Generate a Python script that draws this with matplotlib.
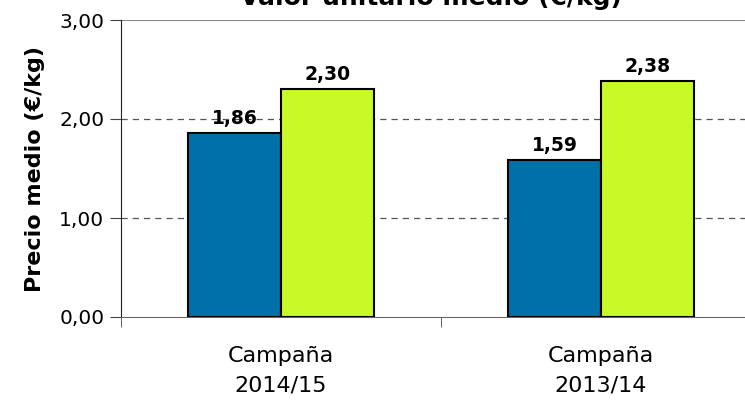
import matplotlib.pyplot as plt
import numpy as np

# values
categories = ["Campaña\n2014/15", "Campaña\n2013/14"]
serie_a = [1.86, 1.59]
serie_b = [2.30, 2.38]
yticks = [0.0, 1.0, 2.0, 3.0]

plt.rcParams["font.family"] = ["DejaVu Sans"]

fig = plt.figure(figsize=(7.45, 4.07), dpi=100)
W, H = 745, 407
# axes spans past the right edge, like the original
ax = fig.add_axes([121 / W, (H - 317) / H, 640 / W, 297 / H])

x = np.arange(len(categories))
w = 0.29
ax.bar(x - w / 2, serie_a, w, color="#0070A8", edgecolor="black", linewidth=1.5, zorder=3)
ax.bar(x + w / 2, serie_b, w, color="#C8FA28", edgecolor="black", linewidth=1.5, zorder=3)

for xi, a, b in zip(x, serie_a, serie_b):
    ax.text(xi - w / 2, a + 0.05, f"{a:.2f}".replace(".", ","), ha="center", va="bottom",
            fontsize=13.5, fontweight="bold", zorder=4)
    ax.text(xi + w / 2, b + 0.05, f"{b:.2f}".replace(".", ","), ha="center", va="bottom",
            fontsize=13.5, fontweight="bold", zorder=4)

ax.set_xlim(-0.5, 1.5)
ax.set_ylim(0, 3)
ax.set_yticks(yticks)
ax.set_yticklabels([f"{v:.2f}".replace(".", ",") for v in yticks], fontsize=14.5)

for v in [1.0, 2.0]:
    ax.axhline(v, color="#555555", linestyle=(0, (5, 4)), linewidth=0.9, zorder=1)
ax.axhline(3.0, color="#888888", linewidth=1.5, zorder=1)

ax.set_xticks(x)
ax.set_xticklabels(categories, fontsize=16, linespacing=1.6)
ax.tick_params(axis="x", length=0, pad=21)
ax.set_xticks([-0.5, 0.5, 1.5], minor=True)
ax.tick_params(axis="x", which="minor", length=7, color="#444444", direction="out")
ax.tick_params(axis="y", length=8, color="#444444", direction="out", pad=4)

ax.spines["top"].set_visible(False)
ax.spines["right"].set_visible(False)
ax.spines["bottom"].set_color("#666666")
ax.spines["left"].set_color("#222222")

ax.set_ylabel("Precio medio (€/kg)", fontsize=16, fontweight="bold", labelpad=10)
fig.text(431 / W, (H - 5) / H, "Valor unitario medio (€/kg)", ha="center", va="baseline",
         fontsize=18, fontweight="bold")

fig.savefig("out.png", dpi=100)
